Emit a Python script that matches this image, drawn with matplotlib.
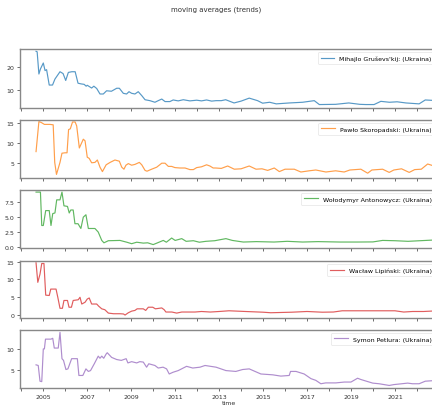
import matplotlib
matplotlib.use("Agg")
import matplotlib.pyplot as plt
from matplotlib.ticker import FixedLocator, MultipleLocator

# (decimal year, value) points, one series per panel
names = ["Mihajlo Gruševs'kij: (Ukraina)", "Pawło Skoropadski: (Ukraina)",
         "Wołodymyr Antonowycz: (Ukraina)", "Wacław Lipiński: (Ukraina)",
         "Symon Petlura: (Ukraina)"]
colors = ["#1f77b4", "#ff7f0e", "#2ca02c", "#d62728", "#9467bd"]

t1 = [2004.67, 2004.72, 2004.80, 2004.87, 2005.0, 2005.08, 2005.15, 2005.27, 2005.42, 2005.53,
      2005.76, 2005.9, 2006.02, 2006.14, 2006.3, 2006.45, 2006.58, 2006.72, 2006.86, 2006.95,
      2007.0, 2007.2, 2007.3, 2007.43, 2007.58, 2007.73, 2007.88, 2008.1, 2008.34, 2008.46,
      2008.64, 2008.79, 2008.9, 2009.02, 2009.17, 2009.32, 2009.48, 2009.63, 2009.85, 2010.08,
      2010.23, 2010.39, 2010.54, 2010.76, 2010.91, 2011.14, 2011.37, 2011.67, 2011.98, 2012.2,
      2012.43, 2012.66, 2012.86, 2013.1, 2013.3, 2013.68, 2014.0, 2014.37, 2014.75, 2014.98,
      2015.3, 2015.6, 2016.2, 2016.8, 2017.33, 2017.56, 2018.3, 2018.9, 2019.4, 2019.68,
      2020.05, 2020.36, 2020.75, 2021.1, 2021.5, 2022.1, 2022.38, 2022.95]
v1 = [26.7, 26.5, 16.8, 19.0, 21.6, 18.3, 18.7, 12.0, 12.0, 14.6,
      17.8, 17.0, 14.0, 17.5, 17.8, 17.8, 12.8, 12.5, 12.3, 11.5,
      11.9, 10.7, 11.5, 10.5, 8.1, 8.1, 9.5, 9.3, 10.6, 10.6,
      8.4, 8.1, 9.1, 8.4, 8.1, 9.1, 7.4, 5.6, 5.2, 4.5,
      5.2, 5.9, 4.8, 4.8, 5.5, 5.1, 5.6, 5.1, 5.4, 5.1,
      5.5, 5.0, 5.2, 5.2, 5.6, 4.2, 5.0, 6.3, 5.2, 4.1,
      4.5, 3.8, 4.2, 4.5, 5.2, 3.5, 3.6, 4.2, 3.6, 3.5,
      3.5, 4.9, 4.5, 4.7, 4.2, 3.8, 5.5, 5.2]

t2 = [2004.67, 2004.8, 2004.9, 2005.05, 2005.3, 2005.45, 2005.52, 2005.6, 2005.76, 2005.85,
      2005.99, 2006.08, 2006.15, 2006.23, 2006.33, 2006.45, 2006.52, 2006.64, 2006.82, 2006.9,
      2007.0, 2007.09, 2007.2, 2007.35, 2007.46, 2007.58, 2007.69, 2007.86, 2008.04, 2008.26,
      2008.46, 2008.57, 2008.67, 2008.76, 2008.87, 2009.02, 2009.17, 2009.37, 2009.48, 2009.63,
      2009.72, 2009.93, 2010.16, 2010.39, 2010.54, 2010.69, 2010.84, 2010.99, 2011.22, 2011.45,
      2011.67, 2011.83, 2011.98, 2012.2, 2012.43, 2012.58, 2012.73, 2012.84, 2013.1, 2013.39,
      2013.69, 2014.0, 2014.37, 2014.68, 2014.95, 2015.21, 2015.51, 2015.74, 2016.0, 2016.42,
      2016.72, 2017.1, 2017.4, 2017.86, 2018.3, 2018.69, 2018.95, 2019.45, 2019.76, 2019.95,
      2020.44, 2020.74, 2020.95, 2021.3, 2021.65, 2021.9, 2022.2, 2022.49, 2022.95]
v2 = [7.9, 15.4, 15.2, 14.7, 14.7, 14.6, 5.2, 2.2, 5.2, 7.5,
      7.6, 7.6, 13.4, 13.6, 15.3, 15.3, 14.3, 8.8, 11.0, 10.6,
      6.5, 6.2, 5.1, 5.2, 5.8, 4.0, 2.9, 4.6, 5.2, 5.8,
      5.5, 4.0, 3.5, 4.5, 4.9, 4.5, 4.7, 5.2, 4.6, 3.2,
      3.0, 3.5, 4.0, 5.0, 5.0, 4.2, 4.2, 3.9, 3.8, 3.8,
      3.4, 3.4, 3.9, 4.1, 4.6, 4.3, 3.8, 3.8, 3.7, 4.3,
      3.5, 3.6, 4.3, 3.5, 3.6, 3.2, 3.8, 2.9, 3.5, 3.5,
      2.8, 3.1, 3.3, 2.8, 3.1, 2.8, 3.3, 3.5, 2.5, 3.3,
      3.5, 2.7, 3.3, 3.6, 2.7, 3.4, 3.5, 4.8, 4.0]

t3 = [2004.67, 2004.87, 2004.93, 2005.0, 2005.11, 2005.27, 2005.35, 2005.43, 2005.53, 2005.61,
      2005.76, 2005.85, 2005.94, 2006.1, 2006.18, 2006.25, 2006.36, 2006.44, 2006.58, 2006.71,
      2006.82, 2006.94, 2007.05, 2007.35, 2007.5, 2007.66, 2007.76, 2007.96, 2008.49, 2008.8,
      2009.02, 2009.25, 2009.55, 2009.75, 2010.0, 2010.2, 2010.46, 2010.6, 2010.84, 2011.0,
      2011.3, 2011.5, 2011.83, 2012.1, 2012.4, 2012.8, 2013.31, 2013.6, 2014.1, 2014.7,
      2015.5, 2016.1, 2016.8, 2017.5, 2018.5, 2019.3, 2020.0, 2020.44, 2021.0, 2021.6, 2022.95]
v3 = [9.2, 9.2, 3.6, 3.6, 6.1, 6.1, 3.6, 5.6, 5.7, 7.9,
      7.9, 9.2, 6.9, 6.8, 5.7, 6.2, 6.2, 3.9, 3.9, 3.1,
      5.0, 5.4, 3.1, 3.1, 2.5, 1.1, 0.7, 1.05, 1.1, 0.8,
      0.55, 0.8, 0.65, 0.7, 0.4, 0.7, 1.1, 0.8, 1.5, 1.1,
      1.4, 0.95, 1.05, 0.8, 0.95, 1.05, 1.4, 1.1, 0.83, 0.9,
      0.83, 0.95, 0.83, 0.9, 0.83, 0.83, 0.85, 1.1, 1.05, 0.95, 1.2]

t4 = [2004.67, 2004.75, 2004.85, 2004.93, 2005.03, 2005.11, 2005.27, 2005.34, 2005.58, 2005.66,
      2005.76, 2005.87, 2005.94, 2006.1, 2006.17, 2006.28, 2006.36, 2006.59, 2006.67, 2006.75,
      2006.9, 2007.0, 2007.09, 2007.2, 2007.43, 2007.52, 2007.66, 2007.8, 2007.96, 2008.2,
      2008.49, 2008.65, 2008.72, 2008.87, 2009.02, 2009.17, 2009.27, 2009.55, 2009.66, 2009.78,
      2009.98, 2010.1, 2010.39, 2010.5, 2010.58, 2010.85, 2011.07, 2011.3, 2011.9, 2012.2,
      2012.6, 2013.0, 2013.45, 2014.2, 2015.0, 2015.35, 2016.3, 2017.0, 2017.7, 2018.2,
      2018.6, 2019.5, 2020.3, 2021.0, 2021.4, 2021.8, 2022.3, 2022.95]
v4 = [14.7, 9.2, 11.5, 14.5, 14.5, 5.6, 5.5, 7.3, 7.3, 5.0,
      1.9, 1.9, 4.1, 4.1, 2.2, 2.2, 4.1, 4.3, 5.0, 3.1,
      3.6, 4.5, 4.8, 3.1, 3.1, 2.5, 1.75, 1.5, 0.55, 0.37,
      0.37, 0.3, 0.0, 0.65, 1.1, 1.3, 1.75, 1.75, 1.3, 2.2,
      2.2, 1.75, 2.0, 1.5, 0.85, 0.85, 0.55, 0.85, 0.85, 1.0,
      0.85, 1.0, 1.2, 1.0, 0.8, 0.65, 0.8, 1.0, 0.8, 0.85,
      1.2, 1.2, 1.2, 1.2, 0.85, 1.0, 1.0, 1.2]

t5 = [2004.67, 2004.77, 2004.85, 2004.93, 2005.0, 2005.05, 2005.1, 2005.35, 2005.43, 2005.5,
      2005.68, 2005.76, 2005.85, 2005.92, 2006.03, 2006.12, 2006.29, 2006.55, 2006.62, 2006.8,
      2006.94, 2007.05, 2007.15, 2007.32, 2007.5, 2007.58, 2007.66, 2007.75, 2007.86, 2007.91,
      2008.11, 2008.34, 2008.55, 2008.77, 2008.85, 2009.02, 2009.25, 2009.39, 2009.55, 2009.7,
      2009.8, 2010.08, 2010.23, 2010.45, 2010.61, 2010.73, 2010.9, 2011.14, 2011.52, 2011.8,
      2012.13, 2012.36, 2012.86, 2013.31, 2013.76, 2014.07, 2014.37, 2014.9, 2015.44, 2015.81,
      2016.19, 2016.25, 2016.5, 2016.87, 2017.18, 2017.4, 2017.63, 2017.85, 2018.31, 2018.7,
      2019.0, 2019.3, 2019.45, 2019.99, 2020.28, 2020.74, 2020.95, 2021.58, 2021.8, 2022.1,
      2022.38, 2022.95]
v5 = [6.25, 6.1, 2.4, 2.3, 10.0, 10.0, 12.3, 12.3, 12.5, 10.2,
      10.2, 13.9, 7.7, 7.3, 5.15, 5.3, 7.7, 7.7, 3.75, 3.75,
      5.3, 4.7, 4.9, 6.5, 8.3, 7.8, 8.3, 7.8, 8.8, 9.1,
      8.0, 7.5, 7.3, 7.7, 6.7, 7.0, 6.7, 7.0, 6.9, 5.7,
      6.5, 6.1, 5.5, 5.7, 5.3, 4.1, 4.5, 4.9, 5.9, 5.5,
      5.7, 6.1, 5.7, 4.9, 4.7, 5.15, 5.3, 4.1, 3.9, 3.6,
      3.75, 4.7, 4.7, 4.1, 3.0, 2.6, 1.8, 2.0, 2.0, 2.2,
      2.2, 3.1, 2.8, 1.95, 1.8, 1.4, 1.6, 1.95, 1.8, 1.8,
      2.4, 2.6]

series = [(t1, v1), (t2, v2), (t3, v3), (t4, v4), (t5, v5)]
ylims = [(2.0, 27.7), (1.3, 15.8), (-0.17, 9.55), (-0.83, 15.2), (0.8, 14.45)]
yticks = [[10, 20], [5, 10, 15], [0, 2.5, 5, 7.5], [0, 5, 10, 15], [5, 10]]
ytick_fmt = ["{:.0f}", "{:.0f}", "{:.1f}", "{:.0f}", "{:.0f}"]
year_labels = list(range(2005, 2023, 2))

W, H = 432, 410
panels_px = [(50, 109), (121, 179), (191, 249), (262, 319), (331, 389)]
left_px, right_px = 20, 438   # axes run a little past the right edge of the picture

fig = plt.figure(figsize=(W / 100, H / 100), dpi=100)
fig.text(0.5, 1 - 10 / H, "moving averages (trends)", ha="center", va="center",
         fontsize=5, color="#333333")

for i, ((top, bot), (t, v)) in enumerate(zip(panels_px, series)):
    ax = fig.add_axes([left_px / W, 1 - bot / H, (right_px - left_px) / W, (bot - top) / H])
    ax.plot(t, v, color=colors[i], lw=0.85, alpha=0.75, label=names[i])
    ax.set_xlim(2003.94, 2022.96)
    ax.set_ylim(*ylims[i])
    ax.yaxis.set_major_locator(FixedLocator(yticks[i]))
    ax.set_yticklabels([ytick_fmt[i].format(y) for y in yticks[i]])
    ax.xaxis.set_major_locator(FixedLocator(year_labels))
    ax.xaxis.set_minor_locator(MultipleLocator(1))
    for s in ax.spines.values():
        s.set_color("#888888")
        s.set_linewidth(1.0)
    ax.tick_params(which="both", labelsize=4.5, colors="#555555", length=2.5, width=0.6,
                   pad=1.5)
    ax.tick_params(axis="x", which="major", labelcolor="#333333")
    ax.tick_params(axis="y", labelcolor="#333333")
    if i < 4:
        ax.tick_params(axis="x", labelbottom=False)
    else:
        ax.set_xticklabels([str(y) for y in year_labels])
        ax.set_xlabel("time", fontsize=4.5, color="#333333", labelpad=1)
    leg = ax.legend(loc="upper right", fontsize=4.5, handlelength=2.2, borderpad=0.5,
                    framealpha=0.8, fancybox=True)
    leg.get_frame().set_edgecolor("#dddddd")
    leg.get_frame().set_linewidth(0.5)

fig.savefig("out.png", dpi=100)
